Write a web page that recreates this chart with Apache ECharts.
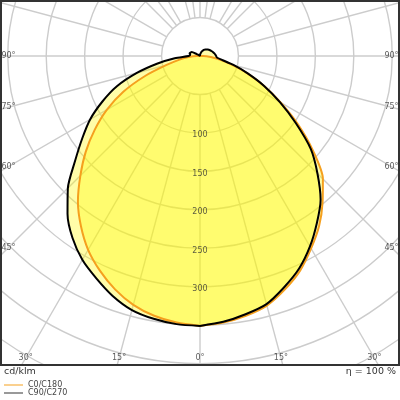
<!DOCTYPE html>
<html><head><meta charset="utf-8">
<script src="https://cdn.jsdelivr.net/npm/echarts@6/dist/echarts.min.js"></script>
<style>html,body{margin:0;padding:0;background:#fff}#c{width:400px;height:400px}</style>
</head><body><div id="c"></div>
<script>
// gamma angles (deg from nadir)
const gammas = [0,5,10,15,20,25,30,35,40,45,50,55,60,65,70,75,80,85,90,95,100,105,110,115,120,125,130,135,140,145,150,155,160,165,170,175,180];
// C0/C180 (orange): right half C0, left half C180, cd/klm
const c0   = [351,348,343,336,323,308,289,270,248,226,192,156,121,92,65,42,25,14,4,0,0,0,0,0,0,0,0,0,0,0,0,0,0,0,0,0,0];
const c180 = [351,348,343,335,323,308,291,270,247,220,194,167,140,110,76,45,27,15,4,0,0,0,0,0,0,0,0,0,0,0,0,0,0,0,0,0,0];
// C90/C270 (black): right half C90, left half C270
const c90  = [351,347,341,334,320,305,286,265,244,216,188,152,120,92,66,45,29,22,21,20,19,18,17,16,15,14,13,12,11,10,9,7,6,4,3,2,1];
const c270 = [351,350,347,342,332,319,306,289,268,243,212,187,165,140,115,85,56,33,15,13,13,14,13,12,5,2,1,0,0,0,0,0,0,0,0,0,0];
const radiusTicks = [100,150,200,250,300];
const angleTicks = [0,15,30,45,60,75,90];
const gridAngles = [0,15,30,45,60,75,90,105,120,135,142.5,150,165,172.5,180,187.5,195,210,217.5,225,240,255,270,285,300,315,330,345];

const CX = 200, CY = 56, MAXR = 500, PX = 0.769;
const LX = 8.5, LY = 358;
const FONT = 'DejaVu Sans';

function closed(right, left) {
  const d = [];
  gammas.forEach((g, i) => d.push([right[i], g]));
  for (let i = gammas.length - 1; i >= 0; i--) d.push([left[i], 360 - gammas[i]]);
  return d;
}
function edgeR(theta) {
  const t = theta * Math.PI / 180, s = Math.sin(t), c = Math.cos(t);
  let d = Infinity;
  if (c > 1e-6) d = Math.min(d, (LY - CY) / c);
  if (s > 1e-6) d = Math.min(d, (CX - LX) / s);
  return d / PX;
}
const angleLabelData = [];
angleTicks.forEach(t => {
  angleLabelData.push({ value: [edgeR(t), t], name: t + '°' });
  if (t > 0) angleLabelData.push({ value: [edgeR(t), 360 - t], name: t + '°' });
});
const gridSeries = gridAngles.map(a => ({
  type: 'line', coordinateSystem: 'polar', silent: true, symbol: 'none', z: 1,
  data: [[50, a], [MAXR, a]],
  lineStyle: { color: '#cccccc', width: 1.4 }
}));

const chart = echarts.init(document.getElementById('c'));
chart.setOption({
  animation: false,
  textStyle: { fontFamily: FONT },
  polar: { center: [CX, CY], radius: MAXR * PX },
  angleAxis: {
    type: 'value', min: 0, max: 360, startAngle: 270, clockwise: false,
    axisLine: { show: false }, axisTick: { show: false }, axisLabel: { show: false }, splitLine: { show: false }
  },
  radiusAxis: {
    type: 'value', min: 0, max: MAXR, interval: 50,
    axisLine: { show: false }, axisTick: { show: false }, axisLabel: { show: false },
    splitLine: { show: true, lineStyle: { color: '#cccccc', width: 1.4 } }
  },
  legend: {
    data: ['C0/C180', 'C90/C270'], orient: 'vertical', left: 4, top: 381,
    icon: 'rect', itemWidth: 19, itemHeight: 1, itemGap: 0, padding: 0,
    textStyle: { fontSize: 8, color: '#444', lineHeight: 7, fontFamily: FONT }
  },
  series: gridSeries.concat([
    {
      name: 'C0/C180', type: 'line', coordinateSystem: 'polar', symbol: 'none', smooth: 0.25, z: 2,
      data: closed(c0, c180),
      itemStyle: { color: '#f5a01e' },
      lineStyle: { color: '#f5a01e', width: 2 },
      areaStyle: { color: 'rgba(255,248,0,0.34)', opacity: 1 }
    },
    {
      name: 'C90/C270', type: 'line', coordinateSystem: 'polar', symbol: 'none', smooth: 0.25, z: 2,
      data: closed(c90, c270),
      itemStyle: { color: '#333' },
      lineStyle: { color: '#000', width: 2 },
      areaStyle: { color: 'rgba(255,248,0,0.34)', opacity: 1 }
    },
    {
      type: 'scatter', coordinateSystem: 'polar', silent: true, symbolSize: 1, z: 5,
      itemStyle: { color: 'rgba(0,0,0,0)' },
      data: radiusTicks.map(v => ({ value: [v, 0], name: String(v) })),
      label: { show: true, position: 'inside', formatter: '{b}', offset: [0, 2.5], fontSize: 8, color: '#333', fontFamily: FONT }
    },
    {
      type: 'scatter', coordinateSystem: 'polar', silent: true, symbolSize: 1, z: 5,
      itemStyle: { color: 'rgba(0,0,0,0)' },
      data: angleLabelData,
      label: { show: true, position: 'inside', formatter: '{b}', fontSize: 8, color: '#333', fontFamily: FONT }
    }
  ]),
  graphic: [
    { type: 'rect', z: 3, silent: true, shape: { x: 0, y: 366, width: 400, height: 34 }, style: { fill: '#fff' } },
    { type: 'rect', z: 3, silent: true, shape: { x: 1, y: 1, width: 398, height: 364 }, style: { fill: null, stroke: '#333', lineWidth: 2 } },
    { type: 'text', z: 5, x: 4, y: 372, style: { text: 'cd/klm', fontSize: 9.5, fill: '#333', fontFamily: FONT, verticalAlign: 'middle', align: 'left' } },
    { type: 'text', z: 5, x: 396, y: 372, style: { text: 'η = 100 %', fontSize: 9.5, fill: '#333', fontFamily: FONT, verticalAlign: 'middle', align: 'right' } }
  ]
});
</script>
</body></html>
